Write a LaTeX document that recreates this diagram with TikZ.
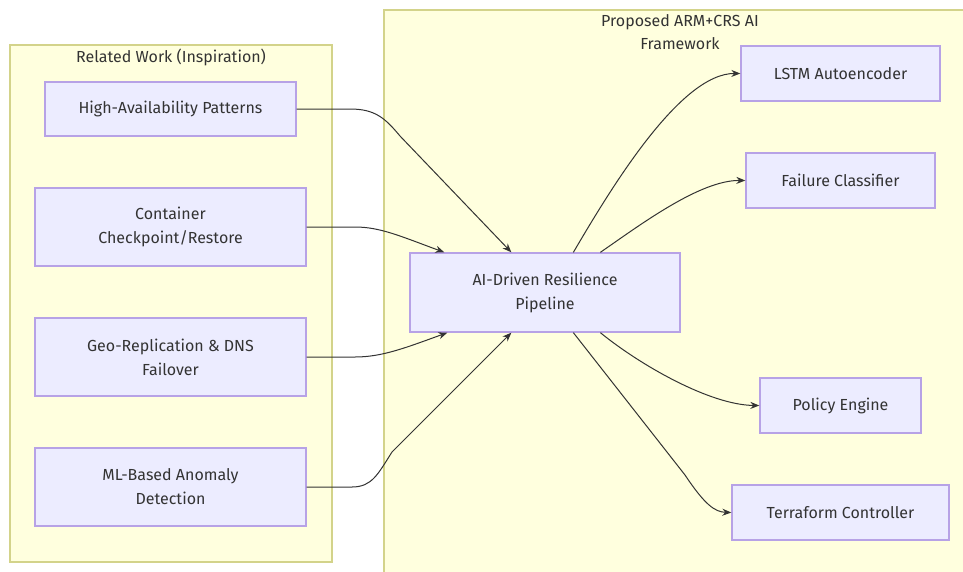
\documentclass[tikz,border=0pt]{standalone}
\usepackage{fontspec}
\setmainfont{Fira Sans}
\usetikzlibrary{arrows.meta,calc}
\definecolor{nodefill}{HTML}{ECECFF}
\definecolor{nodeline}{HTML}{B7A2E6}
\definecolor{clfill}{HTML}{FFFFDE}
\definecolor{clline}{HTML}{D3D38A}
\definecolor{txt}{HTML}{333333}
\tikzset{
  box/.style={draw=nodeline, fill=nodefill, line width=1.3pt, align=center, text=txt, font=\fontsize{16}{24}\selectfont, inner sep=0pt},
  cluster/.style={draw=clline, fill=clfill, line width=1.2pt},
  ctitle/.style={text=txt, font=\fontsize{16}{23}\selectfont, align=center},
  edge/.style={draw=txt, line width=1pt, -{Stealth[length=9pt,width=7pt]}}
}
\begin{document}
\begin{tikzpicture}[x=1pt,y=-1pt]
\clip (0,0) rectangle (963,571);
\fill[white] (0,0) rectangle (963,571);
% clusters
\draw[cluster] (10,45) rectangle (332,562);
\draw[cluster] (384,10) rectangle (975,590);
\node[ctitle] (t1) at (171,57) {Related Work (Inspiration)};
\node[ctitle] (t2) at (680,32) {Proposed ARM+CRS AI\\Framework};
% left nodes
\node[box, minimum width=251pt, minimum height=54pt] (ha) at (170.5,109) {High-Availability Patterns};
\node[box, minimum width=271pt, minimum height=78pt] (cc) at (170.5,227) {Container\\Checkpoint/Restore};
\node[box, minimum width=271pt, minimum height=78pt] (geo) at (170.5,357) {Geo-Replication \& DNS\\Failover};
\node[box, minimum width=271pt, minimum height=78pt] (ml) at (170.5,487) {ML-Based Anomaly\\Detection};
% center
\node[box, minimum width=270pt, minimum height=79pt] (pipe) at (545,292.5) {AI-Driven Resilience\\Pipeline};
% right nodes
\node[box, minimum width=199pt, minimum height=55pt] (lstm) at (840.5,73.5) {LSTM Autoencoder};
\node[box, minimum width=189pt, minimum height=55pt] (fc) at (840.5,180.5) {Failure Classifier};
\node[box, minimum width=161pt, minimum height=55pt] (pe) at (840.5,405.5) {Policy Engine};
\node[box, minimum width=217pt, minimum height=55pt] (tc) at (840.5,512.5) {Terraform Controller};
% anchor coordinates on pipeline
\coordinate (inA) at ($(pipe.north west)+(102,0)$);
\coordinate (inB) at ($(pipe.north west)+(35,0)$);
\coordinate (inC) at ($(pipe.south west)+(38,0)$);
\coordinate (inD) at ($(pipe.south west)+(102,0)$);
\coordinate (outA) at ($(pipe.north west)+(164,0)$);
\coordinate (outB) at ($(pipe.north west)+(191,0)$);
\coordinate (outC) at ($(pipe.south west)+(191,0)$);
\coordinate (outD) at ($(pipe.south west)+(164,0)$);
% incoming edges
\draw[edge] (ha.east) -- (350,109) .. controls (375,109) and (385,118) .. (400,136) -- (inA);
\draw[edge] (cc.east) -- (355,227) .. controls (380,227) and (400,236) .. (inB);
\draw[edge] (geo.east) -- (355,357) .. controls (382,357) and (405,348) .. (inC);
\draw[edge] (ml.east) -- (352,487) .. controls (372,487) and (378,474) .. (392,452) -- (inD);
% outgoing edges
\draw[edge] (outA) .. controls (610,190) and (680,73) .. (lstm.west);
\draw[edge] (outB) .. controls (640,225) and (700,180) .. (fc.west);
\draw[edge] (outC) .. controls (640,365) and (710,405) .. (pe.west);
\draw[edge] (outD) -- (685,475) .. controls (705,505) and (715,512) .. (tc.west);
\end{tikzpicture}
\end{document}
